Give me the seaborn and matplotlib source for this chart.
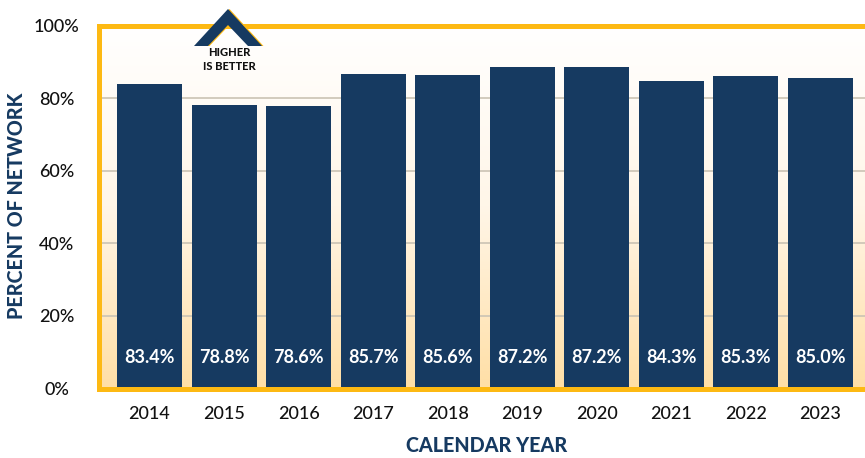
import matplotlib
matplotlib.use('Agg')
import matplotlib.pyplot as plt
from matplotlib.patches import Polygon
import numpy as np
import pandas as pd
import seaborn as sns

years = ['2014', '2015', '2016', '2017', '2018', '2019', '2020', '2021', '2022', '2023']
bar_heights = [83.9, 78.1, 77.8, 86.6, 86.4, 88.6, 88.6, 84.7, 86.1, 85.5]
bar_labels = ['83.4%', '78.8%', '78.6%', '85.7%', '85.6%', '87.2%', '87.2%', '84.3%', '85.3%', '85.0%']
y_ticks = [0, 20, 40, 60, 80, 100]

NAVY = '#163A61'
GOLD = '#FDB913'
W, H = 865, 458
AX_W = W - 98.5

sns.set_theme(style='white')
plt.rcParams['font.family'] = ['Lato', 'DejaVu Sans']


def px(x, y):
    # reference pixels to figure coordinates
    return x / W, 1 - y / H


df = pd.DataFrame({'year': years, 'percent': bar_heights})

fig = plt.figure(figsize=(W / 100, H / 100), dpi=100)
ax = fig.add_axes([98.5 / W, 1 - 388.5 / H, AX_W / W, 363 / H])

sns.barplot(data=df, x='year', y='percent', color=NAVY, saturation=1, width=0.872, linewidth=0, ax=ax, zorder=3)

# background fade, white at the top to pale orange at the bottom
fade = np.linspace(0, 1, 256).reshape(-1, 1)
cmap = matplotlib.colors.LinearSegmentedColormap.from_list('fade', ['#FFFFFF', '#FFF6E8', '#FFDFA6'])
ax.imshow(fade, aspect='auto', cmap=cmap, extent=(-0.684, 9.6, 0, 100), zorder=0)
ax.set_xlim(-0.684, 9.6)
ax.set_ylim(0, 100)

for t in y_ticks[1:-1]:
    ax.axhline(t, color='#CBC3B4', lw=1.2, zorder=1)

for i, label in enumerate(bar_labels):
    ax.text(i, 8.5, label, color='white', ha='center', va='center', fontsize=13, fontweight='bold', zorder=4)

for side in ['left', 'top', 'bottom']:
    ax.spines[side].set_visible(True)
    ax.spines[side].set_color(GOLD)
    ax.spines[side].set_linewidth(3.6)
    ax.spines[side].set_zorder(5)
ax.spines['right'].set_visible(False)

ax.set_yticks(y_ticks)
ax.set_yticklabels([f'{t}%' for t in y_ticks], fontsize=13, color='#111111', ha='center', fontweight='medium')
ax.tick_params(axis='y', length=0, pad=30)
ax.tick_params(axis='x', length=0, pad=12.5, labelsize=13, labelcolor='#111111')
for tick in ax.get_xticklabels():
    tick.set_fontweight('medium')
ax.set_xlabel('CALENDAR YEAR', fontsize=14.2, fontweight='black', color=NAVY, va='center')
ax.set_ylabel('PERCENT OF NETWORK', fontsize=14.2, fontweight='black', color=NAVY, va='center')
ax.xaxis.set_label_coords((487 - 98.5) / AX_W, -(446 - 388.5) / 363)
ax.yaxis.set_label_coords(-(98.5 - 17) / AX_W, (388.5 - 206) / 363)

# "higher is better" chevron sits over the frame
chevron = [(228, 9), (262, 46), (248, 46), (228, 25), (208, 46), (194, 46)]
gold_edge = [(x + 1.5, y) for x, y in chevron]
fig.add_artist(Polygon([px(x, y) for x, y in gold_edge], closed=True, transform=fig.transFigure, fc=GOLD, ec='none', zorder=6))
fig.add_artist(Polygon([px(x, y) for x, y in chevron], closed=True, transform=fig.transFigure, fc=NAVY, ec='none', zorder=7))
fig.text(*px(229, 53), 'HIGHER', ha='center', va='center', fontsize=8, fontweight='black', color='#111111', zorder=8)
fig.text(*px(229, 67), 'IS BETTER', ha='center', va='center', fontsize=8, fontweight='black', color='#111111', zorder=8)

fig.savefig('out.png', dpi=100)
